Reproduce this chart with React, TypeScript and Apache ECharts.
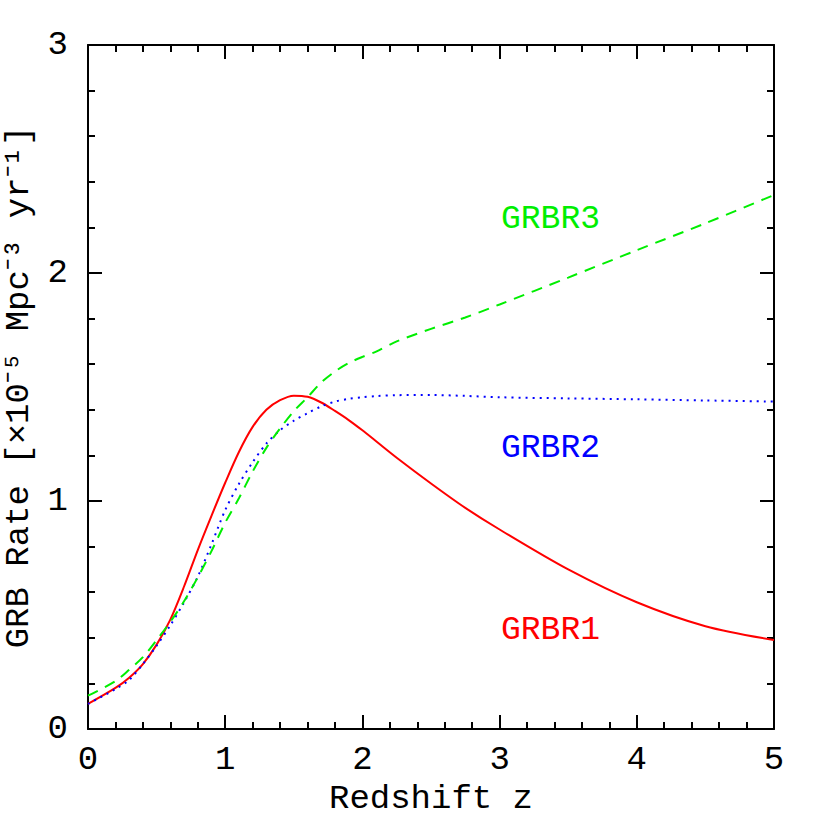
import React, { useEffect, useRef } from "react";
import * as echarts from "echarts";

const zValues = [0, 0.2, 0.3, 0.4, 0.5, 0.6, 0.7, 0.8, 0.9, 1.0, 1.1, 1.2, 1.3, 1.4, 1.5, 1.6, 1.7, 1.8, 1.9, 2.0, 2.1, 2.25, 2.5, 2.75, 3.0, 3.5, 4.0, 4.5, 5.0];
const grbr1 = [0.11, 0.18, 0.225, 0.285, 0.37, 0.48, 0.625, 0.785, 0.935, 1.08, 1.215, 1.325, 1.4, 1.442, 1.462, 1.457, 1.432, 1.395, 1.355, 1.31, 1.262, 1.19, 1.077, 0.97, 0.875, 0.7, 0.556, 0.451, 0.39];
const grbr2 = [0.11, 0.175, 0.215, 0.285, 0.365, 0.455, 0.555, 0.668, 0.81, 0.96, 1.075, 1.17, 1.252, 1.31, 1.352, 1.385, 1.415, 1.436, 1.448, 1.455, 1.46, 1.464, 1.465, 1.461, 1.455, 1.45, 1.446, 1.441, 1.436];
const grbr3 = [0.146, 0.21, 0.26, 0.315, 0.39, 0.47, 0.56, 0.665, 0.78, 0.905, 1.012, 1.129, 1.233, 1.318, 1.394, 1.455, 1.52, 1.568, 1.605, 1.632, 1.655, 1.70, 1.755, 1.805, 1.862, 1.98, 2.1, 2.218, 2.342];
const seriesNames = ["GRBR1", "GRBR2", "GRBR3"];
const xTickLabels = ["0", "1", "2", "3", "4", "5"];
const yTickLabels = ["0", "1", "2", "3"];

const FONT = "Liberation Mono";

export default function App() {
  const ref = useRef<HTMLDivElement>(null);
  useEffect(() => {
    document.body.style.margin = "0";
    const chart = echarts.init(ref.current!, null, { renderer: "svg" });
    const pair = (vals: number[]) => zValues.map((z, i) => [z, vals[i]]);
    const axisCommon = {
      type: "value",
      axisLine: { show: true, onZero: false, lineStyle: { color: "#000", width: 2 } },
      axisTick: { show: true, inside: true, length: 14, lineStyle: { color: "#000", width: 2 } },
      minorTick: { show: true, splitNumber: 5, length: 7, lineStyle: { color: "#000", width: 2 } },
      splitLine: { show: false },
      minorSplitLine: { show: false },
    };
    chart.setOption({
      animation: false,
      backgroundColor: "#fff",
      grid: { left: 88, right: 43, top: 45, bottom: 88, containLabel: false, outerBoundsMode: "none" },
      xAxis: [
        {
          ...axisCommon,
          min: 0, max: 5, interval: 1,
          axisLabel: {
            show: true, margin: 14, color: "#000", fontFamily: FONT, fontSize: 34,
            formatter: (v: number) => xTickLabels[Math.round(v)] ?? "",
          },
          name: "Redshift z", nameLocation: "middle", nameGap: 36,
          nameTextStyle: { color: "#000", fontFamily: FONT, fontSize: 34 },
        },
        {
          ...axisCommon,
          position: "top",
          min: 0, max: 5, interval: 1,
          axisLabel: { show: false },
        },
      ],
      yAxis: [
        {
          ...axisCommon,
          min: 0, max: 3, interval: 1,
          axisLabel: {
            show: true, margin: 20, color: "#000", fontFamily: FONT, fontSize: 34,
            formatter: (v: number) => yTickLabels[Math.round(v)] ?? "",
          },
          name: "GRB Rate [×10⁻⁵ Mpc⁻³ yr⁻¹]", nameLocation: "middle", nameGap: 52, nameRotate: 90,
          nameTextStyle: { color: "#000", fontFamily: FONT, fontSize: 34 },
        },
        {
          ...axisCommon,
          position: "right",
          min: 0, max: 3, interval: 1,
          axisLabel: { show: false },
        },
      ],
      series: [
        {
          name: seriesNames[0], type: "line", data: pair(grbr1), smooth: 0.3, symbol: "none",
          lineStyle: { color: "#ff0000", width: 2, type: "solid" },
        },
        {
          name: seriesNames[1], type: "line", data: pair(grbr2), smooth: 0.3, symbol: "none",
          lineStyle: { color: "#0000ff", width: 2, type: [2, 5] },
        },
        {
          name: seriesNames[2], type: "line", data: pair(grbr3), smooth: 0.3, symbol: "none",
          lineStyle: { color: "#00ee00", width: 2, type: [11, 8] },
        },
      ],
      graphic: [
        { type: "text", x: 501, y: 219, style: { text: seriesNames[2], fill: "#00ee00", font: `33px "${FONT}"`, verticalAlign: "middle" } },
        { type: "text", x: 501, y: 448, style: { text: seriesNames[1], fill: "#0000ff", font: `33px "${FONT}"`, verticalAlign: "middle" } },
        { type: "text", x: 501, y: 630, style: { text: seriesNames[0], fill: "#ff0000", font: `33px "${FONT}"`, verticalAlign: "middle" } },
      ],
    });
    return () => chart.dispose();
  }, []);
  return <div ref={ref} style={{ width: 817, height: 817 }} />;
}
